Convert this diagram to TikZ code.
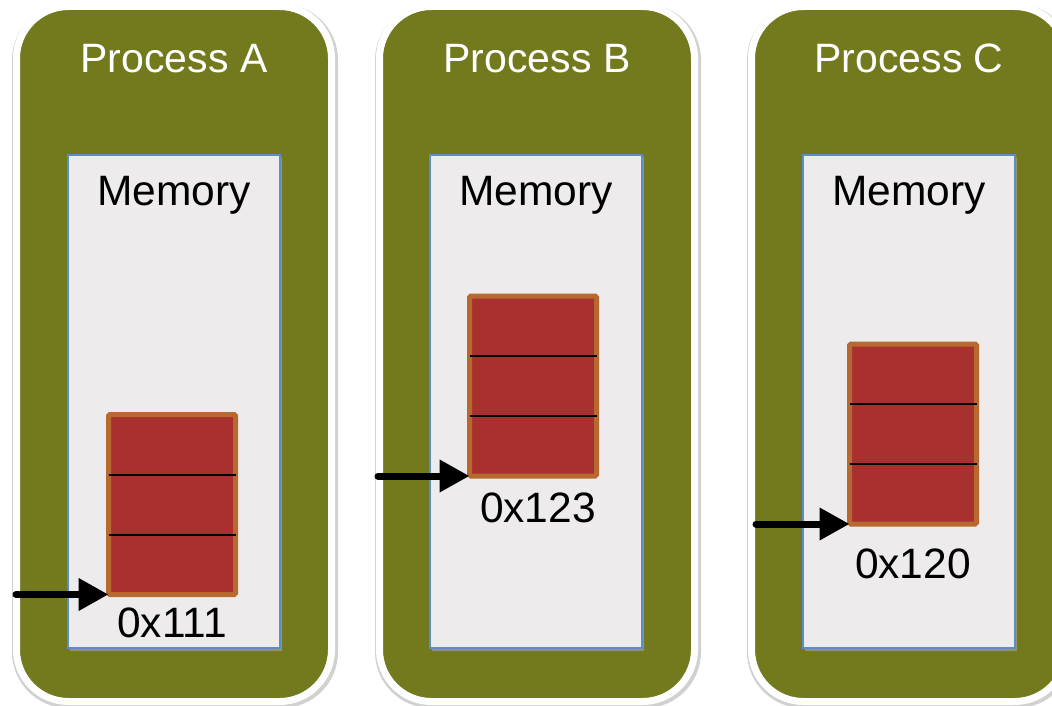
\documentclass[tikz,border=0pt]{standalone}
\usepackage{fontspec}
\setmainfont{Liberation Sans}
\usetikzlibrary{arrows.meta,calc}
\definecolor{olive}{HTML}{737A1E}
\definecolor{memfill}{HTML}{EDEBEC}
\definecolor{memline}{HTML}{5B8CCB}
\definecolor{blkfill}{HTML}{A8312F}
\definecolor{blkline}{HTML}{B8692F}
\tikzset{
  procbox/.style={rectangle, draw=white, line width=7pt, fill=olive, rounded corners=52pt,
    minimum width=315pt, minimum height=695pt, inner sep=0pt},
  procshadow/.style={rectangle, fill=black!18, rounded corners=56pt,
    minimum width=326pt, minimum height=704pt, inner sep=0pt},
  membox/.style={rectangle, draw=memline, line width=1.2pt, fill=memfill,
    minimum width=212pt, minimum height=493pt, inner sep=0pt},
  memshadow/.style={rectangle, fill=black!30, minimum width=212pt, minimum height=493pt, inner sep=0pt},
  blkbox/.style={rectangle, draw=blkline, line width=5pt, fill=blkfill, rounded corners=1.5pt,
    minimum width=127pt, minimum height=180pt, inner sep=0pt, outer sep=0pt},
  divider/.style={draw=black, line width=2pt},
  ptr/.style={draw=black, line width=7pt, line cap=round, -{Triangle[length=30pt,width=31pt]}},
  title/.style={text=white, font=\fontsize{41}{48}\selectfont, anchor=base, inner sep=0pt},
  lbl/.style={text=black, font=\fontsize{42.5}{48}\selectfont, anchor=base, inner sep=0pt},
}
\begin{document}
\begin{tikzpicture}[x=1pt,y=-1pt]
\useasboundingbox (0,0) rectangle (1052,706);
\clip (0,0) rectangle (1052,706);
% shadows of process boxes
\foreach \cx in {174,537,909}{
  \node[procshadow] at (\cx+1,356) {};
}
% process boxes
\node[procbox] (pA) at (174,354) {};
\node[procbox] (pB) at (537,354) {};
\node[procbox] (pC) at (909,354) {};
% titles
\node[title] (tA) at (174,73) {Process A};
\node[title] (tB) at (537,73) {Process B};
\node[title] (tC) at (909,73) {Process C};
% memory shadows
\node[memshadow, opacity=0.5] at (176,404) {};
\node[memshadow, opacity=0.5] at (538,404) {};
\node[memshadow, opacity=0.5] at (911,404) {};
% memory boxes
\node[membox] (mA) at (174,401.5) {};
\node[membox] (mB) at (536,401.5) {};
\node[membox] (mC) at (909,401.5) {};
\node[lbl] (lmA) at (174,205) {Memory};
\node[lbl] (lmB) at (536,205) {Memory};
\node[lbl] (lmC) at (909,205) {Memory};
% blocks
\node[blkbox] (bA) at (172,504.5) {};
\node[blkbox] (bB) at (533,386) {};
\node[blkbox] (bC) at (913,434) {};
\foreach \b in {bA,bB,bC}{
  \draw[divider] ($(\b.north west)!1/3!(\b.south west)$) -- ($(\b.north east)!1/3!(\b.south east)$);
  \draw[divider] ($(\b.north west)!2/3!(\b.south west)$) -- ($(\b.north east)!2/3!(\b.south east)$);
}
% address labels
\node[lbl] (aA) at (172,637) {0x111};
\node[lbl] (aB) at (538,522) {0x123};
\node[lbl] (aC) at (913,578) {0x120};
% pointers
\coordinate (sA) at (16,0);
\coordinate (sB) at (378,0);
\coordinate (sC) at (756,0);
\draw[ptr] (sA |- bA.south west) -- (bA.south west);
\draw[ptr] (sB |- bB.south west) -- (bB.south west);
\draw[ptr] (sC |- bC.south west) -- (bC.south west);
\end{tikzpicture}
\end{document}
